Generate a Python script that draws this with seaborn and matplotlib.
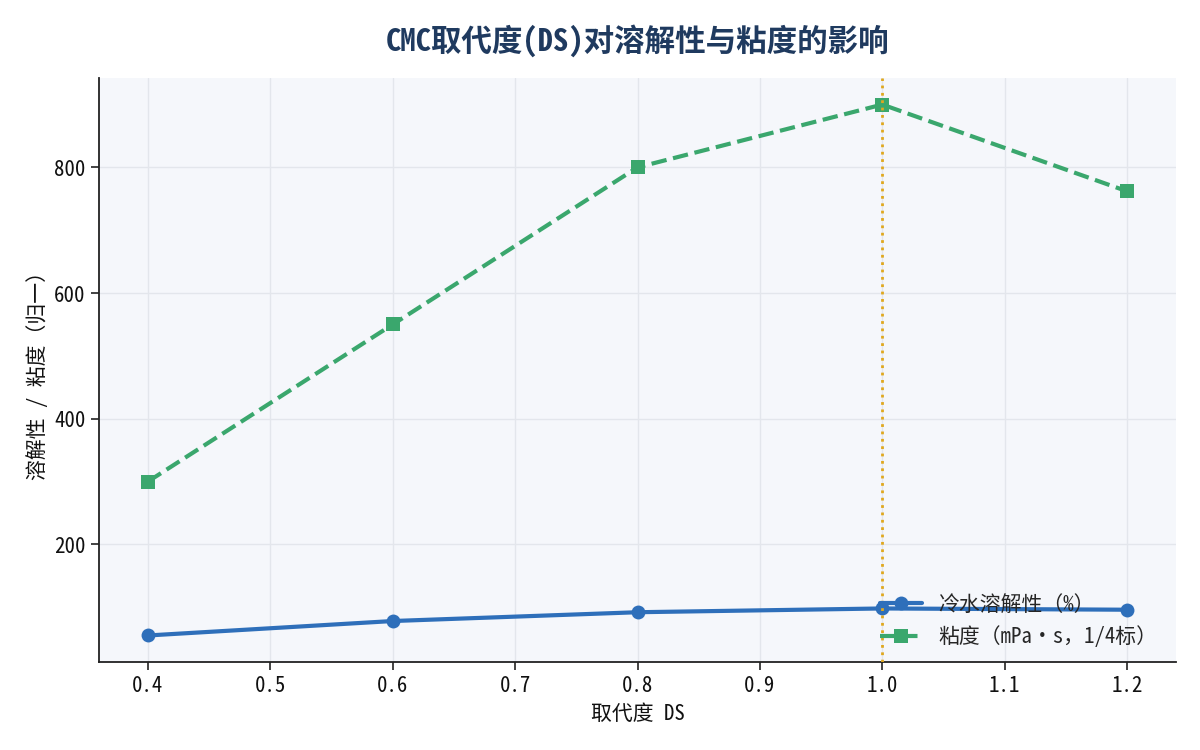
import matplotlib
matplotlib.use("Agg")
import matplotlib.pyplot as plt
import seaborn as sns
import pandas as pd

DS_VALUES = [0.4, 0.6, 0.8, 1.0, 1.2]
SOLUBILITY = [55, 78, 92, 98, 96]
VISCOSITY = [300, 550, 800, 900, 762]
SOLUBILITY_LABEL = "冷水溶解性（%）"
VISCOSITY_LABEL = "粘度（mPa·s，1/4标）"
OPTIMUM_DS = 1.0
X_TICKS = [0.4, 0.5, 0.6, 0.7, 0.8, 0.9, 1.0, 1.1, 1.2]

sns.set_theme(style="whitegrid")
plt.rcParams["font.family"] = ["Noto Sans Mono CJK SC", "Noto Sans CJK SC", "DejaVu Sans"]
plt.rcParams["axes.unicode_minus"] = False

frame = pd.DataFrame({"DS": DS_VALUES, "solubility": SOLUBILITY, "viscosity": VISCOSITY})

fig, ax = plt.subplots(figsize=(12, 7.5), dpi=100)
fig.subplots_adjust(left=0.0825, right=0.98, top=0.896, bottom=0.1173)
ax.set_facecolor("#f5f7fb")

sns.lineplot(data=frame, x="DS", y="solubility", ax=ax, color="#2e6fba",
             marker="o", markersize=10, linewidth=3, markeredgewidth=0,
             label=SOLUBILITY_LABEL)
sns.lineplot(data=frame, x="DS", y="viscosity", ax=ax, color="#3aa76d",
             marker="s", markersize=10, linewidth=3, linestyle="--",
             markeredgewidth=0, label=VISCOSITY_LABEL)
ax.axvline(OPTIMUM_DS, color="#e0a81e", linestyle=":", linewidth=2, zorder=5)

ax.set_xticks(X_TICKS)
ax.set_xticklabels([f"{t:.1f}" for t in X_TICKS])
ax.set_yticks([200, 400, 600, 800])
ax.grid(True, color="#e3e6ec", linewidth=1)
ax.tick_params(axis="both", labelsize=15, length=6, width=1.2, color="#222222",
               labelcolor="#111111", bottom=True, left=True)
for side in ["top", "right"]:
    ax.spines[side].set_visible(False)
for side in ["left", "bottom"]:
    ax.spines[side].set_color("#222222")
    ax.spines[side].set_linewidth(1.3)

ax.set_xlabel("取代度 DS", fontsize=15, color="#111111")
ax.set_ylabel("溶解性 / 粘度（归一）", fontsize=15, color="#111111")
ax.set_title("CMC取代度(DS)对溶解性与粘度的影响", fontsize=22, fontweight="bold",
             color="#1f3a5f", pad=20)

ax.legend(loc="lower right", frameon=False, fontsize=15, bbox_to_anchor=(1.0, -0.008))

fig.savefig("out.png", dpi=100)
